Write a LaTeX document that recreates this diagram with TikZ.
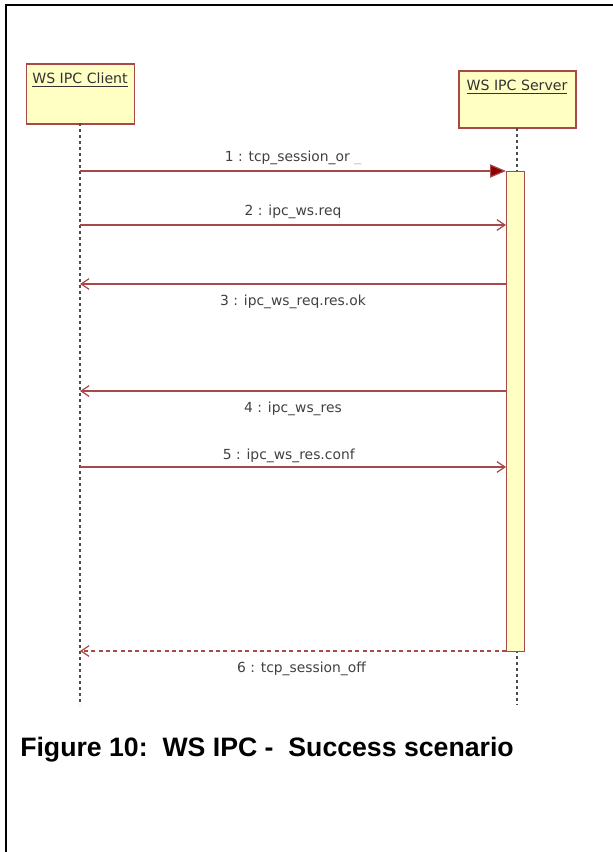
\documentclass[tikz,border=0pt]{standalone}
\usepackage{fontspec}
\setmainfont{Liberation Sans}
\newfontfamily\labelfont{DejaVu Sans}
\usetikzlibrary{arrows.meta}
\definecolor{lifered}{HTML}{A84848}
\definecolor{tipred}{HTML}{8B0000}
\definecolor{boxfill}{HTML}{FFFFC4}
\begin{document}
\begin{tikzpicture}[x=0.75pt, y=-0.75pt,
  actor/.style={draw=lifered, fill=boxfill, line width=1.2pt, anchor=north west, inner sep=0pt},
  msg/.style={draw=lifered, line width=0.9pt},
  lbl/.style={font=\labelfont\fontsize{10.4}{12}\selectfont, text=black!75, inner sep=1pt},
  life/.style={draw=black!70, line width=1pt, dash pattern=on 2pt off 2.5pt}]
  \useasboundingbox (0,0) rectangle (613,852);
  % frame
  \draw[line width=2pt] (613,5) -- (6,5) -- (6,852);
  % actors
  \node[actor, minimum width=81pt, minimum height=45pt] (client) at (25.5,63.5) {};
  \node[lbl, font=\labelfont\fontsize{10.6}{12}\selectfont, text=black!80] (clientlbl) at (80,80) {\underline{WS IPC Client}};
  \node[actor, minimum width=88pt, minimum height=43pt] (server) at (458,70) {};
  \node[lbl, font=\labelfont\fontsize{10.6}{12}\selectfont, text=black!80] (serverlbl) at (517,87) {\underline{WS IPC Server}};
  % lifelines
  \coordinate (cend) at (80,705);
  \coordinate (send) at (517,705);
  \draw[life] (80,123) -- (cend);
  \draw[life] (517,128) -- (send);
  % activation
  \node[draw=lifered, fill=boxfill, line width=1pt, minimum width=13.5pt, minimum height=360pt, anchor=north west, inner sep=0pt] (act) at (506,171) {};
  % message points
  \foreach \n/\y in {1/171, 2/225, 3/284, 4/391, 5/467, 6/651} {
    \coordinate (c\n) at (80,\y);
    \coordinate (s\n) at (506,\y);
  }
  % messages
  \draw[msg, -{Triangle[length=12pt, width=10pt, fill=tipred]}] (c1) -- (s1) node[lbl, above=3pt, pos=0.5] (m1) {1 : tcp\_session\_or {\color{black!25}\_}};
  \draw[msg, -{Straight Barb[length=6pt, width=8pt]}] (c2) -- (s2) node[lbl, above=3pt, pos=0.5] (m2) {2 : ipc\_ws.req};
  \draw[msg, -{Straight Barb[length=6pt, width=8pt]}] (s3) -- (c3) node[lbl, below=6.5pt, pos=0.5] (m3) {3 : ipc\_ws\_req.res.ok};
  \draw[msg, -{Straight Barb[length=6pt, width=8pt]}] (s4) -- (c4) node[lbl, below=6.5pt, pos=0.5] (m4) {4 : ipc\_ws\_res};
  \draw[msg, -{Straight Barb[length=6pt, width=8pt]}] (c5) -- (s5) node[lbl, above=2pt, pos=0.49] (m5) {5 : ipc\_ws\_res.conf};
  \draw[msg, dash pattern=on 3pt off 2.5pt, -{Straight Barb[length=6pt, width=8pt]}] (s6) -- (c6) node[lbl, below=6.5pt, pos=0.48] (m6) {6 : tcp\_session\_off};
  % caption
  \node[anchor=west, font=\bfseries\fontsize{20}{24}\selectfont, inner sep=0pt] (caption) at (20,750) {Figure 10:\ \ WS IPC -\ \ Success scenario};
\end{tikzpicture}
\end{document}
